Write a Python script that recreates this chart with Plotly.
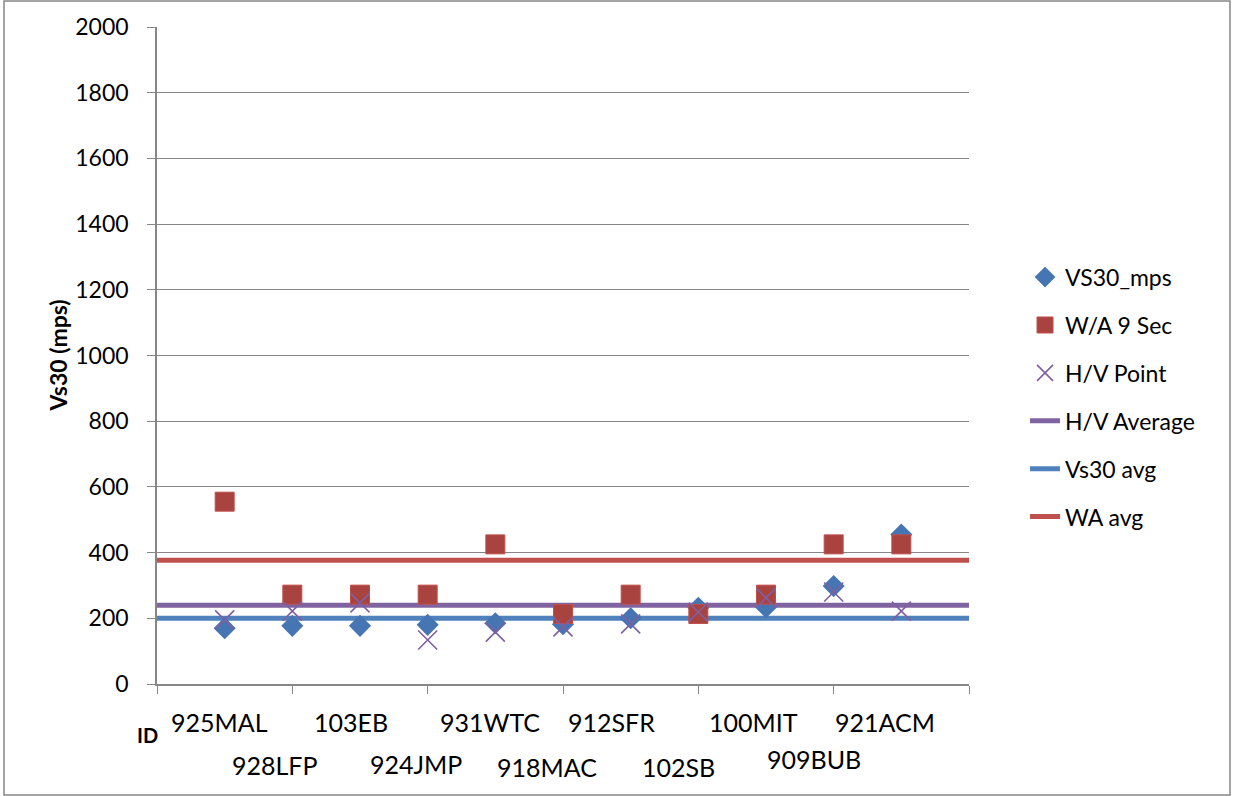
import plotly.graph_objects as go

# ---- data ----
site_ids = ["925MAL", "928LFP", "103EB", "924JMP", "931WTC", "918MAC",
            "912SFR", "102SB", "100MIT", "909BUB", "921ACM"]
vs30_mps = [170, 177, 177, 180, 185, 182, 200, 232, 234, 298, 455]
wa_9sec = [555, 272, 272, 272, 425, 213, 272, 213, 272, 425, 425]
hv_point = [195, 222, 247, 134, 158, 174, 183, 219, 262, 280, 222]
hv_average = 240
vs30_avg = 200
wa_avg = 377
x_span = [0, 12]
y_ticks = list(range(0, 2001, 200))

# ---- styling (positions of the id labels, pixels) ----
label_xshift = [-5, -17, -9, -12, -5, -16, -19, -20, -13, -20, -16]
label_yshift = [-38, -81, -38, -80, -38, -83, -38, -83, -38, -75, -38]

FONT = "Lato, 'Open Sans', sans-serif"
GRID = "#868686"
xpos = list(range(1, len(site_ids) + 1))

fig = go.Figure()

# average lines first (drawn beneath markers)
for name, val, col, rank in [("H/V Average", hv_average, "#8064A2", 4),
                             ("Vs30 avg", vs30_avg, "#4F81BD", 5),
                             ("WA avg", wa_avg, "#C0504D", 6)]:
    fig.add_trace(go.Scatter(x=x_span, y=[val, val], mode="lines", name=name,
                             line=dict(color=col, width=5), legendrank=rank,
                             legendgroup=name))

fig.add_trace(go.Scatter(x=xpos, y=vs30_mps, mode="markers", name="VS30_mps",
                         marker=dict(symbol="diamond", size=17, color="#4575B3",
                                     line=dict(width=0)),
                         legendrank=1, legendgroup="a"))
fig.add_trace(go.Scatter(x=xpos, y=wa_9sec, mode="markers", name="W/A 9 Sec",
                         marker=dict(symbol="square", size=19, color="#A9433F",
                                     line=dict(width=1, color="#C0504D")),
                         legendrank=2, legendgroup="b"))
fig.add_trace(go.Scatter(x=xpos, y=hv_point, mode="markers", name="H/V Point",
                         marker=dict(symbol="x-thin-open", size=19, color="#7F5FA1",
                                     line=dict(width=1.6, color="#7F5FA1")),
                         legendrank=3, legendgroup="c"))

annotations = []
for i, lab in enumerate(site_ids):
    annotations.append(dict(x=xpos[i], y=0, xref="x", yref="paper", text=lab,
                            showarrow=False, xanchor="center", yanchor="middle",
                            xshift=label_xshift[i], yshift=label_yshift[i],
                            font=dict(family=FONT, size=25, color="black")))
annotations.append(dict(x=-10 / 812, y=0, xref="paper", yref="paper", text="<b>ID</b>",
                        showarrow=False, xanchor="center", yanchor="middle",
                        yshift=-51, font=dict(family=FONT, size=20, color="black")))
annotations.append(dict(x=-100 / 812, y=0.5, xref="paper", yref="paper",
                        text="<b>Vs30 (mps)</b>", textangle=-90, showarrow=False,
                        xanchor="center", yanchor="middle",
                        font=dict(family=FONT, size=23, color="black")))

fig.update_layout(
    width=1233, height=796,
    margin=dict(l=157, r=264, t=27, b=112),
    paper_bgcolor="white", plot_bgcolor="white",
    font=dict(family=FONT, size=23, color="black"),
    showlegend=True,
    legend=dict(x=1.069, y=0.652, xanchor="left", yanchor="top",
                font=dict(family=FONT, size=23), tracegroupgap=15,
                bgcolor="rgba(0,0,0,0)"),
    xaxis=dict(range=x_span, dtick=2, tick0=0, showticklabels=False,
               ticks="outside", ticklen=8, tickcolor=GRID, showgrid=False,
               showline=True, linecolor=GRID, linewidth=1.5, zeroline=False,
               fixedrange=True),
    yaxis=dict(range=[0, 2000], tickvals=y_ticks, ticks="outside", ticklen=8,
               tickcolor=GRID, showgrid=True, gridcolor=GRID, gridwidth=1,
               showline=True, linecolor=GRID, linewidth=1.5, zeroline=False,
               ticklabelstandoff=14, tickfont=dict(family=FONT, size=23)),
    annotations=annotations,
    shapes=[dict(type="rect", xref="paper", yref="paper",
                 x0=(4 - 157) / 812, x1=(1230 - 157) / 812,
                 y0=(684 - 795) / 657, y1=(684 - 1) / 657,
                 line=dict(color=GRID, width=1.5), fillcolor="rgba(0,0,0,0)",
                 layer="below")],
)

fig.write_html("out.html")
